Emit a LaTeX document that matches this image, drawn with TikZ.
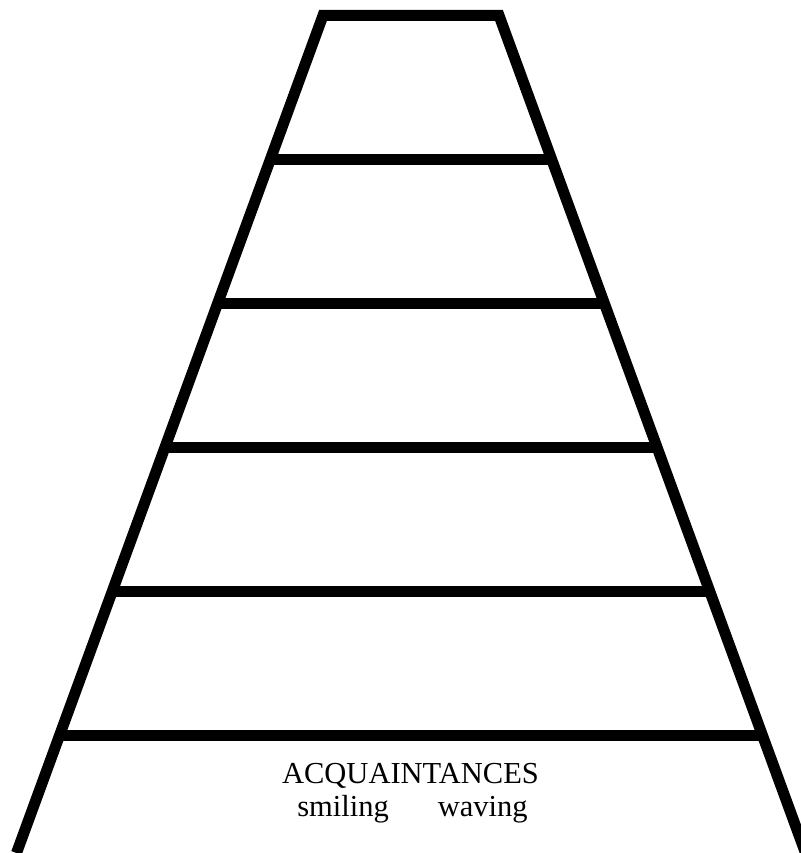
\documentclass[tikz,border=0pt]{standalone}
\usepackage{fontspec}
\setmainfont{Liberation Serif}
\begin{document}
\begin{tikzpicture}[x=1pt,y=-1pt,
  ladder/.style={line width=11pt,line join=miter,black},
  rung/.style={line width=10.5pt,black},
  lbl/.style={anchor=base,inner sep=0pt,font=\fontsize{30.5}{36}\selectfont}]
\useasboundingbox (0,0) rectangle (800,853);
\coordinate (bl) at (16.5,853);
\coordinate (tl) at (323,15.5);
\coordinate (tr) at (499,15.5);
\coordinate (br) at (805.5,853);
\draw[ladder] (bl) -- (tl) -- (tr) -- (br);
\foreach \k in {1,...,5}{
  \pgfmathsetmacro{\yy}{15.5+144*\k}
  \pgfmathsetmacro{\dx}{0.366*144*\k}
  \coordinate (l\k) at ({323-\dx},\yy);
  \coordinate (r\k) at ({499+\dx},\yy);
  \draw[rung] (l\k) -- (r\k);
}
\node[lbl] (acq) at (410.5,783) {ACQUAINTANCES};
\node[lbl] (sw) at (412.5,816) {smiling\hspace{49pt}waving};
\end{tikzpicture}
\end{document}
